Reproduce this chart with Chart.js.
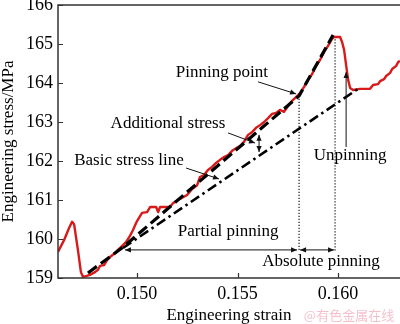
<!DOCTYPE html>
<html>
<head>
<meta charset="utf-8">
<script src="https://cdn.jsdelivr.net/npm/chart.js@4/dist/chart.umd.min.js"></script>
<style>
html,body{margin:0;padding:0;background:#fff;}
#wrap{width:400px;height:324px;position:relative;}
</style>
</head>
<body>
<div id="wrap"><canvas id="c" width="400" height="324"></canvas></div>
<script>
// ---------- data ----------
const redX = [0.14607,0.14637,0.14662,0.14677,0.14687,0.14706,0.14721,0.14731,0.14746,0.14766,0.14791,0.14806,0.14816,0.14836,0.14851,0.14866,0.14886,0.14905,0.14925,0.14945,0.14965,0.14980,0.15000,0.15025,0.15050,0.15065,0.15095,0.15105,0.15115,0.15164,0.15179,0.15214,0.15249,0.15274,0.15299,0.15313,0.15333,0.15353,0.15373,0.15393,0.15413,0.15433,0.15453,0.15473,0.15493,0.15512,0.15532,0.15552,0.15572,0.15592,0.15612,0.15632,0.15652,0.15672,0.15692,0.15711,0.15731,0.15751,0.15771,0.15791,0.15811,0.15831,0.15851,0.15871,0.15891,0.15910,0.15930,0.15950,0.15970,0.15980,0.16010,0.16020,0.16030,0.16040,0.16050,0.16060,0.16075,0.16109,0.16159,0.16174,0.16199,0.16209,0.16229,0.16239,0.16259,0.16269,0.16289,0.16299,0.16308];
const redY = [159.67,159.97,160.28,160.44,160.38,159.72,159.15,159.03,159.05,159.08,159.15,159.21,159.31,159.33,159.46,159.54,159.62,159.72,159.82,159.92,160.08,160.23,160.46,160.67,160.69,160.82,160.82,160.69,160.82,160.82,160.92,161.03,161.13,161.28,161.38,161.59,161.64,161.77,161.85,161.95,162.03,162.10,162.15,162.26,162.33,162.38,162.49,162.67,162.74,162.85,162.92,163.00,163.10,163.21,163.23,163.31,163.26,163.41,163.54,163.64,163.74,163.90,164.08,164.23,164.44,164.59,164.79,164.95,165.13,165.18,165.18,165.05,164.85,164.46,164.08,163.87,163.82,163.85,163.85,163.95,163.97,164.05,164.10,164.18,164.26,164.36,164.44,164.54,164.56];
const fitX = [0.14756,0.14930,0.15806,0.15975];
const fitY = [159.13,159.79,163.67,165.23];
const baseX = [0.14930,0.16099];
const baseY = [159.77,163.85];
const pinLineX = [0.15806,0.15806];
const pinLineY = [163.67,159.67];
const absLineX = [0.15985,0.15985];
const absLineY = [165.20,159.67];
const xTicks = [0.150,0.155,0.160];
const xTickLabels = ['0.150','0.155','0.160'];
const yTicks = [159,160,161,162,163,164,165,166];
const xTitle = 'Engineering strain';
const yTitle = 'Engineering stress/MPa';
const notes = ['Pinning point','Additional stress','Basic stress line','Unpinning','Partial pinning','Absolute pinning'];
const noteX = [0.15422,0.15154,0.14960,0.16060,0.15453,0.15915];
const noteY = [164.28,162.97,162.00,162.15,160.18,159.41];
// arrows: start x, start y, end x, end y, heads at both ends?
const arrX1 = [0.15602,0.15453,0.15244,0.16040,0.15607,0.14940,0.15811];
const arrY1 = [164.03,162.72,161.82,162.36,162.67,159.72,159.72];
const arrX2 = [0.15791,0.15587,0.15408,0.16040,0.15607,0.15796,0.15980];
const arrY2 = [163.72,162.46,161.54,164.28,162.23,159.72,159.72];
const arrBoth = [false,false,false,false,true,true,true];
const watermark = '@有色金属在线';

const pts = (xs, ys) => xs.map((x,i)=>({x:x, y:ys[i]}));
const SERIF = '"Liberation Serif","Times New Roman",serif';

function arrowHead(ctx, x1, y1, x2, y2){
  const a = Math.atan2(y2-y1, x2-x1), L = 6, W = 2.6;
  ctx.beginPath();
  ctx.moveTo(x2, y2);
  ctx.lineTo(x2 - L*Math.cos(a) + W*Math.sin(a), y2 - L*Math.sin(a) - W*Math.cos(a));
  ctx.lineTo(x2 - L*Math.cos(a) - W*Math.sin(a), y2 - L*Math.sin(a) + W*Math.cos(a));
  ctx.closePath();
  ctx.fill();
}

const decor = {
  id: 'decor',
  afterDatasetsDraw(chart){
    const {ctx, chartArea: ca, scales:{x, y}} = chart;
    ctx.save();
    // frame (left, top, bottom)
    ctx.strokeStyle = '#333'; ctx.lineWidth = 1.5;
    ctx.beginPath();
    ctx.moveTo(ca.right+2, ca.top); ctx.lineTo(ca.left, ca.top);
    ctx.lineTo(ca.left, ca.bottom); ctx.lineTo(ca.right+2, ca.bottom);
    ctx.stroke();
    // inward ticks
    ctx.lineWidth = 1.2;
    ctx.beginPath();
    xTicks.forEach(v=>{ const px = Math.round(x.getPixelForValue(v))+0.5; ctx.moveTo(px, ca.bottom); ctx.lineTo(px, ca.bottom-5); });
    yTicks.forEach(v=>{ const py = Math.round(y.getPixelForValue(v))+0.5; ctx.moveTo(ca.left, py); ctx.lineTo(ca.left+5, py); });
    ctx.stroke();
    // arrows
    ctx.strokeStyle = '#111'; ctx.fillStyle = '#111'; ctx.lineWidth = 1;
    arrX1.forEach((v,i)=>{
      const x1 = x.getPixelForValue(v), y1 = y.getPixelForValue(arrY1[i]);
      const x2 = x.getPixelForValue(arrX2[i]), y2 = y.getPixelForValue(arrY2[i]);
      ctx.beginPath(); ctx.moveTo(x1,y1); ctx.lineTo(x2,y2); ctx.stroke();
      arrowHead(ctx, x1, y1, x2, y2);
      if (arrBoth[i]) arrowHead(ctx, x2, y2, x1, y1);
    });
    // notes
    ctx.fillStyle = '#000';
    ctx.font = '17px ' + SERIF;
    ctx.textAlign = 'center'; ctx.textBaseline = 'middle';
    notes.forEach((t,i)=>{ ctx.fillText(t, x.getPixelForValue(noteX[i]), y.getPixelForValue(noteY[i])); });
    // watermark
    ctx.fillStyle = 'rgba(238,140,158,0.55)';
    ctx.font = '13px "Noto Sans CJK SC"';
    ctx.fillText(watermark, 349, 315);
    ctx.restore();
  }
};

new Chart(document.getElementById('c'), {
  type: 'line',
  data: {
    datasets: [
      {data: pts(fitX, fitY), borderColor:'#000', borderWidth:3.2, borderDash:[11,5], order:1},
      {data: pts(baseX, baseY), borderColor:'#000', borderWidth:2.6, borderDash:[10,4,2.5,4], order:2},
      {data: pts(pinLineX, pinLineY), borderColor:'#000', borderWidth:1.1, borderDash:[1.2,1.8], order:4},
      {data: pts(absLineX, absLineY), borderColor:'#000', borderWidth:1.1, borderDash:[1.2,1.8], order:5},
      {data: pts(redX, redY), borderColor:'#d81a1a', borderWidth:2.4, order:3}
    ]
  },
  options: {
    responsive:false, animation:false,
    layout:{padding:{top:5,right:0,left:0,bottom:0}},
    elements:{point:{radius:0}, line:{tension:0, borderCapStyle:'butt', borderJoinStyle:'round'}},
    plugins:{legend:{display:false}, tooltip:{enabled:false}},
    scales:{
      x:{type:'linear', min:0.14607, max:0.16308,
        grid:{display:false, drawTicks:false}, border:{display:false},
        afterFit(s){ s.height = 46; },
        afterBuildTicks(s){ s.ticks = xTicks.map(v=>({value:v})); },
        ticks:{padding:5, color:'#000', font:{family:SERIF, size:18}, maxRotation:0,
          callback:(v)=>{ const i = xTicks.findIndex(t=>Math.abs(t-v)<1e-9); return i>=0 ? xTickLabels[i] : ''; }},
        title:{display:true, text:xTitle, color:'#000', font:{family:SERIF, size:17, lineHeight:1}, padding:0}
      },
      y:{type:'linear', min:159, max:166,
        grid:{display:false, drawTicks:false}, border:{display:false},
        afterFit(s){ s.width = 58; s.paddingTop = 0; s.paddingBottom = 0; },
        afterBuildTicks(s){ s.ticks = yTicks.map(v=>({value:v})); },
        ticks:{padding:5, color:'#000', font:{family:SERIF, size:18, lineHeight:0.5}},
        title:{display:true, text:yTitle, color:'#000', font:{family:SERIF, size:17, lineHeight:1}, padding:0}
      }
    }
  },
  plugins:[decor]
});
</script>
</body>
</html>
